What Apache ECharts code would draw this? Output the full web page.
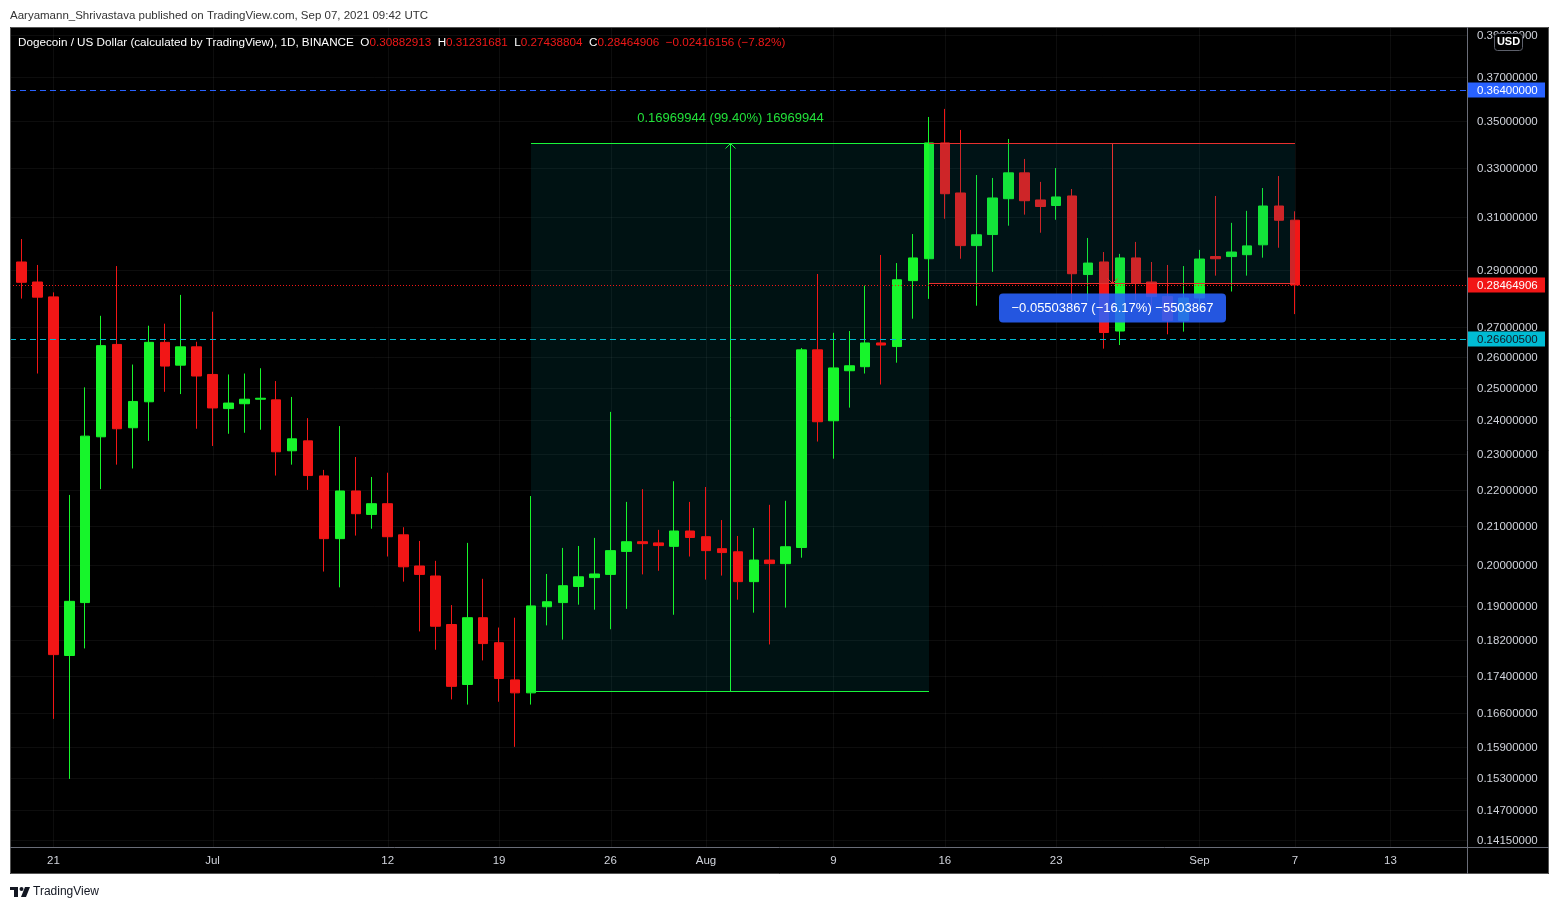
<!DOCTYPE html>
<html><head><meta charset="utf-8">
<script src="https://cdn.jsdelivr.net/npm/echarts@6/dist/echarts.min.js"></script>
<style>html,body{margin:0;padding:0;background:#fff;}#c{width:1559px;height:910px;}</style>
</head><body><div id="c"></div>
<script>
// ---------- DATA ----------
const dates = [
'2021-06-19','2021-06-20','2021-06-21','2021-06-22','2021-06-23','2021-06-24','2021-06-25','2021-06-26','2021-06-27','2021-06-28','2021-06-29','2021-06-30',
'2021-07-01','2021-07-02','2021-07-03','2021-07-04','2021-07-05','2021-07-06','2021-07-07','2021-07-08','2021-07-09','2021-07-10','2021-07-11','2021-07-12','2021-07-13','2021-07-14','2021-07-15','2021-07-16','2021-07-17','2021-07-18','2021-07-19','2021-07-20','2021-07-21','2021-07-22','2021-07-23','2021-07-24','2021-07-25','2021-07-26','2021-07-27','2021-07-28','2021-07-29','2021-07-30','2021-07-31',
'2021-08-01','2021-08-02','2021-08-03','2021-08-04','2021-08-05','2021-08-06','2021-08-07','2021-08-08','2021-08-09','2021-08-10','2021-08-11','2021-08-12','2021-08-13','2021-08-14','2021-08-15','2021-08-16','2021-08-17','2021-08-18','2021-08-19','2021-08-20','2021-08-21','2021-08-22','2021-08-23','2021-08-24','2021-08-25','2021-08-26','2021-08-27','2021-08-28','2021-08-29','2021-08-30','2021-08-31',
'2021-09-01','2021-09-02','2021-09-03','2021-09-04','2021-09-05','2021-09-06','2021-09-07','2021-09-08','2021-09-09','2021-09-10','2021-09-11','2021-09-12','2021-09-13','2021-09-14','2021-09-15','2021-09-16','2021-09-17'];

const opens = [0.2930,0.2857,0.2804,0.1785,0.1908,0.2351,0.2641,0.2378,0.2457,0.2648,0.2573,0.2633,
0.2543,0.2436,0.2451,0.2465,0.2463,0.2310,0.2339,0.2238,0.2068,0.2196,0.2132,0.2161,0.2078,0.1998,0.1973,0.1856,0.1721,0.1872,0.1814,0.1731,0.1703,0.1898,0.1908,0.1947,0.1969,0.1977,0.2035,0.2060,0.2057,0.2048,0.2088,
0.2073,0.2042,0.2034,0.1959,0.2013,0.2004,0.2045,0.2623,0.2399,0.2555,0.2568,0.2646,0.2634,0.2862,0.2942,0.3404,0.3196,0.2991,0.3033,0.3173,0.3278,0.3168,0.3146,0.3184,0.2884,0.2930,0.2686,0.2945,0.2857,0.2805,0.2722,
0.2800,0.2950,0.2950,0.2957,0.2994,0.3144,0.30882913];
const closes = [0.2856,0.2803,0.1787,0.1911,0.2353,0.2637,0.2375,0.2458,0.2648,0.2570,0.2633,0.2538,
0.2438,0.2453,0.2465,0.2468,0.2307,0.2345,0.2239,0.2068,0.2196,0.2134,0.2161,0.2073,0.1996,0.1977,0.1852,0.1717,0.1872,0.1812,0.1734,0.1703,0.1900,0.1910,0.1949,0.1971,0.1978,0.2037,0.2060,0.2055,0.2050,0.2088,0.2071,
0.2037,0.2032,0.1959,0.2013,0.2004,0.2047,0.2623,0.2396,0.2564,0.2571,0.2646,0.2639,0.2865,0.2945,0.3404,0.3193,0.2991,0.3032,0.3176,0.3278,0.3165,0.3142,0.3180,0.2887,0.2926,0.2681,0.2945,0.2853,0.2805,0.2722,0.2800,
0.2941,0.2942,0.2967,0.2990,0.3144,0.30881062,0.28464906];
const lows = [0.2798,0.2546,0.1648,0.1528,0.1801,0.2201,0.2270,0.2259,0.2339,0.2488,0.2481,0.2375,
0.2324,0.2360,0.2363,0.2372,0.2239,0.2270,0.2199,0.1984,0.1945,0.2076,0.2094,0.2022,0.1959,0.1840,0.1798,0.1689,0.1678,0.1774,0.1684,0.1591,0.1678,0.1854,0.1821,0.1903,0.1891,0.1845,0.1893,0.1977,0.1986,0.1879,0.2022,
0.1964,0.1974,0.1915,0.1884,0.1810,0.1896,0.2019,0.2337,0.2287,0.2439,0.2546,0.2511,0.2581,0.2728,0.2797,0.3094,0.2942,0.2773,0.2894,0.3067,0.3110,0.3040,0.3090,0.2787,0.2787,0.2627,0.2639,0.2790,0.2765,0.2675,0.2684,
0.2775,0.2880,0.2823,0.2880,0.2946,0.2983,0.27438804];
const highs = [0.3016,0.2919,0.2820,0.2185,0.2502,0.2738,0.2915,0.2575,0.2704,0.2711,0.2811,0.2650,
0.2752,0.2543,0.2546,0.2563,0.2522,0.2472,0.2407,0.2255,0.2383,0.2292,0.2235,0.2247,0.2098,0.2062,0.2011,0.1902,0.2057,0.1966,0.1849,0.1872,0.2182,0.1978,0.2044,0.2049,0.2070,0.2426,0.2166,0.2201,0.2091,0.2223,0.2166,
0.2207,0.2117,0.2075,0.2096,0.2158,0.2169,0.2629,0.2886,0.2680,0.2686,0.2844,0.2956,0.2926,0.3035,0.3517,0.3553,0.3460,0.3269,0.3257,0.3421,0.3336,0.3241,0.3298,0.3212,0.3020,0.2967,0.2960,0.3005,0.2930,0.2919,0.2915,
0.2975,0.3184,0.3078,0.3125,0.3216,0.3265,0.31231681];

const yTicks = [0.39,0.37,0.35,0.33,0.31,0.29,0.27,0.26,0.25,0.24,0.23,0.22,0.21,0.20,0.19,0.182,0.174,0.166,0.159,0.153,0.147,0.1415];
const xTickDates = ['2021-06-21','2021-07-01','2021-07-12','2021-07-19','2021-07-26','2021-08-01','2021-08-09','2021-08-16','2021-08-23','2021-09-01','2021-09-07','2021-09-13'];
const xTickLabels = ['21','Jul','12','19','26','Aug','9','16','23','Sep','7','13'];
const priceLineValues = [0.364, 0.28464906, 0.266005];
const measureStart = ['2021-07-21','2021-08-15'];
const measureEnd = ['2021-08-15','2021-09-07'];
const measureFrom = [0.17072, 0.34038];
const measureTo = [0.34042, 0.28534];
const measureText = ['0.16969944 (99.40%) 16969944', '\u22120.05503867 (\u221216.17%) \u22125503867'];

// ---------- STYLE ----------
const FONT = '"Liberation Sans", Arial, sans-serif';
const PL = 10, PR = 1467, PT = 27, PB = 847;
const UP = '#17f52b', DOWN = '#f21616';
const GRIDC = 'rgba(255,255,255,0.05)';
const priceLineColor = ['#2962ff', '#f21616', '#00bcd4'];
const priceLineDash = [[6,4],[1,2],[6,4]];
const priceBadgeText = ['#ffffff','#ffffff','#131722'];
const measureColor = ['#19f53a', '#e8302f'];
const measureFill = ['rgba(0,120,130,0.15)', 'rgba(0,130,150,0.15)'];

const n = opens.length - 1;
const chg = closes[n] - closes[n-1];
const sgn = v => (v < 0 ? '\u2212' : '') + Math.abs(v).toFixed(8);
const pct = (chg / closes[n-1] * 100);
const legendText = '{w|Dogecoin / US Dollar (calculated by TradingView), 1D, BINANCE  O}{r|' + opens[n].toFixed(8) +
  '}{w|  H}{r|' + highs[n].toFixed(8) + '}{w|  L}{r|' + lows[n].toFixed(8) + '}{w|  C}{r|' + closes[n].toFixed(8) +
  '}{r|  ' + sgn(chg) + ' (' + (pct < 0 ? '\u2212' : '') + Math.abs(pct).toFixed(2) + '%)}';

const candleData = opens.map((o, i) => [o, closes[i], lows[i], highs[i]]);

function txt(text, x, y, fill, size, align) {
  return {type:'text', style:{text:text, x:x, y:y, fill:fill, font: size + 'px ' + FONT,
    textAlign: align || 'left', textVerticalAlign:'middle', align: align || 'left', verticalAlign:'middle'}};
}

function yGridItem(params, api) {
  const v = api.value(1);
  const y = Math.round(api.coord([0, v])[1]) + 0.5;
  return {type:'group', children:[
    {type:'line', shape:{x1:PL, y1:y, x2:PR, y2:y}, style:{stroke:GRIDC, lineWidth:1}},
    txt(v.toFixed(8), PR + 10, y, '#d1d4dc', 11.5)
  ]};
}
function xGridItem(params, api) {
  const x = Math.round(api.coord([api.value(0), api.value(1)])[0]) + 0.5;
  return {type:'line', shape:{x1:x, y1:PT, x2:x, y2:PB}, style:{stroke:GRIDC, lineWidth:1}};
}
function priceItem(params, api) {
  const i = params.dataIndex; const v = api.value(1);
  const y = Math.round(api.coord([0, v])[1]) + 0.5;
  return {type:'group', children:[
    {type:'line', shape:{x1:PL, y1:y, x2:PR, y2:y}, style:{stroke:priceLineColor[i], lineWidth:1, lineDash:priceLineDash[i]}},
    {type:'rect', shape:{x:PR, y:y-8, width:78, height:15}, style:{fill:priceLineColor[i]}},
    txt(v.toFixed(8), PR + 10, y, priceBadgeText[i], 11.5)
  ]};
}
function measureItem(params, api) {
  const k = api.value(4);
  const a = api.coord([api.value(0), api.value(1)]);
  const b = api.coord([api.value(2), api.value(3)]);
  const x1 = Math.round(a[0]), x2 = Math.round(b[0]);
  const yF = Math.round(a[1]) + 0.5, yT = Math.round(b[1]) + 0.5;
  const top = Math.min(yF, yT), bot = Math.max(yF, yT);
  const mx = Math.round((x1 + x2) / 2) + 0.5;
  const col = measureColor[k];
  const dir = yT < yF ? 1 : -1;
  const ch = [
    {type:'rect', shape:{x:x1, y:top, width:x2 - x1, height:bot - top}, style:{fill:measureFill[k]}},
    {type:'line', shape:{x1:x1, y1:top, x2:x2, y2:top}, style:{stroke:col, lineWidth:1}},
    {type:'line', shape:{x1:x1, y1:bot, x2:x2, y2:bot}, style:{stroke:col, lineWidth:1}},
    {type:'line', shape:{x1:mx, y1:yF, x2:mx, y2:yT}, style:{stroke:col, lineWidth:1}},
    {type:'polyline', shape:{points:[[mx-5, yT+5*dir],[mx, yT],[mx+5, yT+5*dir]]}, style:{stroke:col, lineWidth:1, fill:'none'}}
  ];
  if (k === 0) {
    ch.push(txt(measureText[k], mx, top - 25, '#22e03a', 13, 'center'));
  } else {
    ch.push({type:'rect', shape:{x:mx - 113.5, y:bot + 10, width:227, height:29, r:4}, style:{fill:'rgba(41,98,255,0.88)'}});
    ch.push(txt(measureText[k], mx, bot + 24.5, '#ffffff', 13, 'center'));
  }
  return {type:'group', children:ch};
}
const measureData = measureStart.map((s, k) => [dates.indexOf(s), measureFrom[k], dates.indexOf(measureEnd[k]), measureTo[k], k]);

const chart = echarts.init(document.getElementById('c'), null, {renderer:'canvas'});
chart.setOption({
  animation:false,
  backgroundColor:'#ffffff',
  title:[
    {text:'Aaryamann_Shrivastava published on TradingView.com, Sep 07, 2021 09:42 UTC', left:10, top:9.5, padding:0,
     textStyle:{fontSize:11.5, fontWeight:'normal', color:'#333333', fontFamily:FONT}},
    {text:legendText, left:18, top:36.5, padding:0,
     textStyle:{fontSize:11.7, fontWeight:'normal', fontFamily:FONT, rich:{
       w:{color:'#ffffff', fontSize:11.7, fontWeight:'normal', fontFamily:FONT},
       r:{color:'#f01818', fontSize:11.7, fontWeight:'normal', fontFamily:FONT}}}}
  ],
  grid:{left:13.6, right:96.9, top:27, bottom:63, containLabel:false},
  xAxis:{type:'category', data:dates, boundaryGap:true,
    axisLine:{show:false}, axisTick:{show:false}, splitLine:{show:false},
    axisLabel:{interval:(i, v) => xTickDates.indexOf(v) >= 0, formatter:(v) => xTickLabels[xTickDates.indexOf(v)],
      color:'#d1d4dc', fontSize:11.5, fontFamily:FONT, margin:8}},
  yAxis:{type:'log', logBase:10, min:0.14025, max:0.3939, position:'right', scale:true,
    axisLine:{show:false}, axisTick:{show:false}, axisLabel:{show:false}, splitLine:{show:false}},
  series:[
    {type:'custom', name:'ygrid', z:1, renderItem:yGridItem, data:yTicks.map(v => [0, v]), encode:{x:0, y:1}, silent:true},
    {type:'custom', name:'xgrid', z:1, renderItem:xGridItem, data:xTickDates.map(d => [dates.indexOf(d), 0.2]), encode:{x:0, y:1}, silent:true},
    {type:'custom', name:'measureBelow', z:1, renderItem:measureItem, data:[measureData[0]], encode:{x:0, y:1}, silent:true},
    {type:'candlestick', name:'DOGEUSD', z:2, data:candleData, barWidth:10,
      itemStyle:{color:UP, color0:DOWN, borderColor:UP, borderColor0:DOWN, borderWidth:1}},
    {type:'custom', name:'priceLines', z:3, renderItem:priceItem, data:priceLineValues.map(v => [0, v]), encode:{x:0, y:1}, silent:true},
    {type:'custom', name:'measureAbove', z:4, renderItem:measureItem, data:[measureData[1]], encode:{x:0, y:1}, silent:true}
  ],
  graphic:[
    {type:'rect', z:-10, shape:{x:10, y:27, width:1539, height:847}, style:{fill:'#000000'}},
    {type:'rect', z:50, shape:{x:10.5, y:27.5, width:1538, height:846}, style:{fill:'none', stroke:'#555555', lineWidth:1}},
    {type:'line', z:50, shape:{x1:1467.5, y1:27, x2:1467.5, y2:874}, style:{stroke:'#6a6d78', lineWidth:1}},
    {type:'line', z:50, shape:{x1:10, y1:847.5, x2:1549, y2:847.5}, style:{stroke:'#6a6d78', lineWidth:1}},
    {type:'rect', z:60, shape:{x:1494.5, y:33.5, width:28, height:17, r:3}, style:{fill:'#000000', stroke:'#5d606b', lineWidth:1}},
    {type:'text', z:61, style:{text:'USD', x:1508.5, y:42, fill:'#ffffff', font:'bold 11px ' + FONT, textAlign:'center', textVerticalAlign:'middle', align:'center', verticalAlign:'middle'}},
    {type:'rect', z:60, shape:{x:10, y:887, width:8, height:3}, style:{fill:'#131722'}},
    {type:'rect', z:60, shape:{x:14, y:887, width:4, height:10}, style:{fill:'#131722'}},
    {type:'circle', z:60, shape:{cx:21.5, cy:889, r:2}, style:{fill:'#131722'}},
    {type:'polygon', z:60, shape:{points:[[25,887],[30,887],[26,897],[21,897]]}, style:{fill:'#131722'}},
    {type:'text', z:60, style:{text:'TradingView', x:33, y:892, fill:'#131722', font:'12px ' + FONT, textAlign:'left', textVerticalAlign:'middle', align:'left', verticalAlign:'middle'}}
  ]
});
</script></body></html>
